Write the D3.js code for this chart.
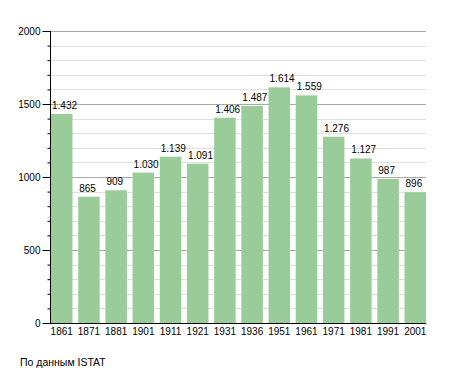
<!DOCTYPE html>
<html>
<head>
<meta charset="utf-8">
<script src="https://cdn.jsdelivr.net/npm/d3@7"></script>
<style>
  body { margin: 0; background: #fff; }
  text { font-family: "Liberation Sans", Arial, sans-serif; font-size: 10px; fill: #000; }
</style>
</head>
<body>
<svg id="chart" width="455" height="373"></svg>
<script>
// population census years and counts
const years = ['1861', '1871', '1881', '1901', '1911', '1921', '1931', '1936', '1951', '1961', '1971', '1981', '1991', '2001'];
const population = [1432, 865, 909, 1030, 1139, 1091, 1406, 1487, 1614, 1559, 1276, 1127, 987, 896];
const yTicks = [0, 500, 1000, 1500, 2000];
const source = 'По данным ISTAT';

const svg = d3.select('#chart');
const plotL = 50, plotR = 426, plotT = 31, plotB = 323;

const x = d3.scaleBand().domain(years).range([plotL + 1, plotR]).paddingInner(0.21).paddingOuter(0);
const y = d3.scaleLinear().domain([0, 2000]).range([plotB, plotT]);

const fmt = v => d3.format(',')(v).replace(/,/g, '.');

// minor grid every 100, major every 500
const minor = d3.range(100, 2001, 100).filter(v => v % 500 !== 0);
svg.append('g').selectAll('line').data(minor).join('line')
  .attr('x1', plotL).attr('x2', plotR)
  .attr('y1', d => Math.round(y(d)) + 0.5).attr('y2', d => Math.round(y(d)) + 0.5)
  .attr('stroke', '#e0e0e0');
svg.append('g').selectAll('line').data(yTicks.filter(v => v > 0)).join('line')
  .attr('x1', plotL).attr('x2', plotR)
  .attr('y1', d => Math.round(y(d)) + 0.5).attr('y2', d => Math.round(y(d)) + 0.5)
  .attr('stroke', '#a8a8a8');

svg.append('g').selectAll('rect').data(population).join('rect')
  .attr('x', (d, i) => x(years[i]))
  .attr('width', x.bandwidth())
  .attr('y', d => y(d))
  .attr('height', d => plotB - y(d))
  .attr('fill', '#99cc99');

svg.append('g').selectAll('text').data(population).join('text')
  .attr('x', (d, i) => x(years[i]) + 1)
  .attr('y', d => y(d) - 5)
  .text(fmt);

// y axis: small ticks every 100, long ticks at labelled values
svg.append('g').attr('transform', `translate(${plotL + 0.5},0)`)
  .call(d3.axisLeft(y).tickValues(minor).tickSize(3).tickFormat(''))
  .call(g => g.select('.domain').remove());
svg.append('g').attr('transform', `translate(${plotL + 0.5},0)`)
  .call(d3.axisLeft(y).tickValues(yTicks).tickSize(8).tickPadding(2).tickFormat(d3.format('d')))
  .call(g => g.select('.domain').attr('d', `M0,${plotT}V${plotB}`))
  .call(g => g.selectAll('text').style('font-size', '10px').attr('fill', '#000'));
svg.selectAll('.tick line').attr('stroke', '#000');

// x axis
svg.append('g').attr('transform', `translate(0,${plotB + 0.5})`)
  .call(d3.axisBottom(x).tickSize(0).tickPadding(4))
  .call(g => g.select('.domain').attr('d', `M${plotL},0H${plotR}`))
  .call(g => g.selectAll('text').style('font-size', '10px').attr('fill', '#000'));

svg.append('text').attr('x', 20).attr('y', 366).style('font-size', '10.5px').text(source);
</script>
</body>
</html>
